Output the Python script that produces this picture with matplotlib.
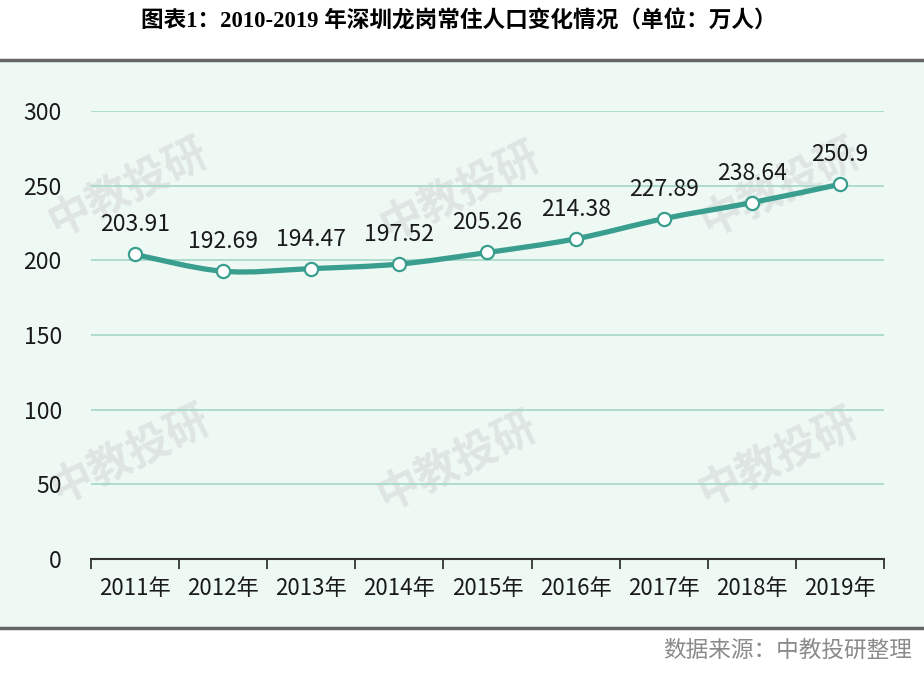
import matplotlib
matplotlib.use('Agg')
import matplotlib.pyplot as plt
from matplotlib.path import Path
from matplotlib.patches import PathPatch, Rectangle

plt.rcParams['font.family'] = ['Noto Sans CJK SC', 'DejaVu Sans']

# data
years = ['2011年', '2012年', '2013年', '2014年', '2015年', '2016年', '2017年', '2018年', '2019年']
population = [203.91, 192.69, 194.47, 197.52, 205.26, 214.38, 227.89, 238.64, 250.9]
value_labels = ['203.91', '192.69', '194.47', '197.52', '205.26', '214.38', '227.89', '238.64', '250.9']
y_ticks = [0, 50, 100, 150, 200, 250, 300]

title = '图表1：2010-2019 年深圳龙岗常住人口变化情况（单位：万人）'
source = '数据来源：中教投研整理'

teal = '#3a9e8f'
grid_c = '#a9d9cc'
bg = '#eef9f4'

fig = plt.figure(figsize=(9.24, 6.76), dpi=100)
W, H = 924, 676

# green panel and gray separator lines
fig.patches.append(Rectangle((0, 1 - 627 / H), 1, (627 - 61) / H, transform=fig.transFigure,
                             facecolor=bg, edgecolor='none', zorder=-3))
fig.add_artist(plt.Line2D([0, 1], [1 - 60 / H] * 2, color='#666666', lw=2.5, transform=fig.transFigure))
fig.add_artist(plt.Line2D([0, 1], [1 - 628 / H] * 2, color='#666666', lw=2.5, transform=fig.transFigure))

fig.text(459 / W, 1 - 22 / H, title, ha='center', va='center', fontsize=16.3, fontweight='heavy',
         family=['Liberation Serif', 'Noto Sans CJK SC'])
fig.text(912 / W, 1 - 650 / H, source, ha='right', va='center', fontsize=16.3, color='#8a8a8a')

# watermarks
for cx, cy in [(128, 188), (460, 192), (780, 188), (130, 455), (457, 462), (778, 458)]:
    fig.text(cx / W, 1 - cy / H, '中教投研', ha='center', va='center', fontsize=31,
             fontweight='bold', color='#c8c8c8', alpha=0.4, rotation=26, zorder=-1)

ax = fig.add_axes([91 / W, 1 - 559 / H, (884 - 91) / W, (559 - 111) / H])
ax.set_facecolor('none')
ax.set_xlim(-0.5, len(years) - 0.5)
ax.set_ylim(0, 300)

for t in y_ticks[1:]:
    ax.axhline(t, color=grid_c, lw=1.3, zorder=1)

# smoothed line (Catmull-Rom as cubic Bezier)
x = list(range(len(population)))
pts = list(zip(x, population))
verts = [pts[0]]
codes = [Path.MOVETO]
for i in range(len(pts) - 1):
    p0 = pts[i - 1] if i > 0 else pts[i]
    p1 = pts[i]
    p2 = pts[i + 1]
    p3 = pts[i + 2] if i + 2 < len(pts) else pts[i + 1]
    c1 = (p1[0] + (p2[0] - p0[0]) / 6, p1[1] + (p2[1] - p0[1]) / 6)
    c2 = (p2[0] - (p3[0] - p1[0]) / 6, p2[1] - (p3[1] - p1[1]) / 6)
    verts += [c1, c2, p2]
    codes += [Path.CURVE4] * 3
ax.add_patch(PathPatch(Path(verts, codes), facecolor='none', edgecolor=teal, lw=3.8,
                       capstyle='round', zorder=3))
ax.plot(x, population, linestyle='none', marker='o', markersize=9.5, markerfacecolor='white',
        markeredgecolor=teal, markeredgewidth=1.6, zorder=4)

for xi, yi, lab in zip(x, population, value_labels):
    ax.annotate(lab, (xi, yi), xytext=(0, 13), textcoords='offset points', ha='center',
                va='bottom', fontsize=16.5, color='#1a1a1a', annotation_clip=False)

ax.set_yticks(y_ticks)
ax.set_yticklabels([str(t) for t in y_ticks], fontsize=16.5, color='#1a1a1a')
ax.tick_params(axis='y', length=0, pad=21)
ax.set_xticks(x)
ax.set_xticklabels(years, fontsize=16, color='#1a1a1a')
ax.set_xticks([i - 0.5 for i in range(len(years) + 1)], minor=True)
ax.tick_params(axis='x', which='major', length=0, pad=13)
ax.tick_params(axis='x', which='minor', length=7, width=1.3, color='#333333', direction='out')

for s in ['top', 'right', 'left']:
    ax.spines[s].set_visible(False)
ax.spines['bottom'].set_color('#333333')
ax.spines['bottom'].set_linewidth(1.5)

fig.savefig('out.png', dpi=100)
